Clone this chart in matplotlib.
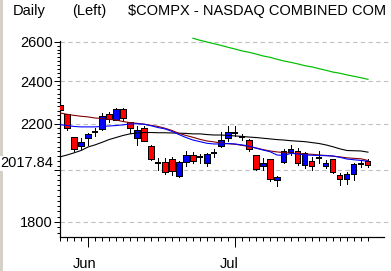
import matplotlib
matplotlib.use('Agg')
import matplotlib.pyplot as plt
import matplotlib.transforms as mtransforms
from matplotlib.ticker import FixedLocator, FixedFormatter, NullFormatter
from matplotlib.patches import Rectangle

# ---------------- data ----------------
days = list(range(45))
opens = [2286, 2244, 2140, 2102, 2137, 2165, 2175, 2244, 2217, 2268, 2207, 2137, 2180, 2102, 2031,
         2035, 2046, 1977, 2033, 2064, 2056, 2030, 2071, 2103, 2136, 2160, 2142, 2128, 2064, 2018,
         2047, 1960, 2035, 2075, 2081, 2024, 2040, 2050, 2020, 2046, 1981, 1965, 1985, 2026, 2039]
highs = [2292, 2246, 2142, 2136, 2160, 2180, 2247, 2252, 2270, 2270, 2210, 2191, 2188, 2107, 2050,
         2050, 2057, 2037, 2081, 2075, 2067, 2072, 2090, 2162, 2188, 2188, 2154, 2133, 2066, 2050,
         2048, 1976, 2090, 2107, 2092, 2075, 2057, 2083, 2042, 2049, 1990, 1993, 2029, 2045, 2047]
lows = [2258, 2172, 2083, 2091, 2105, 2144, 2172, 2210, 2215, 2212, 2157, 2107, 2125, 2043, 2000,
        1987, 1983, 1975, 2019, 2031, 2030, 2019, 2057, 2100, 2124, 2145, 2127, 2081, 2002, 2000,
        1958, 1936, 2030, 2064, 2022, 2008, 2003, 2029, 2010, 1988, 1940, 1945, 1962, 2012, 2014]
closes = [2263, 2181, 2090, 2119, 2154, 2165, 2236, 2222, 2268, 2226, 2181, 2172, 2125, 2048, 2031,
          1993, 1998, 2035, 2064, 2040, 2056, 2068, 2071, 2128, 2163, 2160, 2142, 2088, 2007, 2032,
          1965, 1972, 2080, 2089, 2031, 2071, 2020, 2050, 2032, 1993, 1964, 1985, 2026, 2029, 2024]

ma_black = [2056, 2064, 2073, 2083, 2098, 2107, 2118, 2130, 2139, 2148, 2155, 2159, 2161, 2161, 2160,
            2160, 2159, 2158, 2157, 2155, 2155, 2152, 2150, 2150, 2148, 2146, 2144, 2141, 2139, 2136,
            2133, 2130, 2128, 2125, 2123, 2121, 2117, 2113, 2107, 2099, 2090, 2083, 2082, 2081, 2076]
ma_brown = [2249, 2243, 2238, 2234, 2231, 2226, 2224, 2220, 2217, 2210, 2205, 2202, 2198, 2193, 2188,
            2180, 2170, 2157, 2148, 2140, 2131, 2124, 2120, 2115, 2112, 2110, 2105, 2100, 2094, 2087,
            2081, 2077, 2074, 2072, 2070, 2068, 2067, 2064, 2062, 2059, 2056, 2052, 2050, 2048, 2041]
ma_blue = [2196, 2192, 2188, 2186, 2186, 2186, 2188, 2190, 2192, 2195, 2199, 2200, 2198, 2191, 2183,
           2177, 2166, 2152, 2139, 2128, 2121, 2114, 2111, 2111, 2113, 2111, 2107, 2102, 2093, 2085,
           2078, 2064, 2062, 2071, 2068, 2064, 2063, 2062, 2061, 2060, 2054, 2047, 2044, 2041, 2038]
green_days = list(range(19, 45))
ma_green = [2620, 2609, 2600, 2591, 2582, 2572, 2563, 2553, 2546, 2537, 2527, 2520, 2510, 2501, 2494,
            2486, 2477, 2471, 2462, 2454, 2445, 2439, 2431, 2424, 2417, 2409]

month_labels = ['Jun', 'Jul']
month_days = [4, 25]
y_major = [1800, 2000, 2200, 2400, 2600]
# the 2000 label is hidden beneath the last-value label in the original
y_labels = ['1800', '', '2200', '2400', '2600']
y_minor = [v for v in range(1760, 2601, 20) if v not in y_major]
last_value = 2017.84
last_label = '2017.84'
title_parts = ['Daily', '(Left)', r'\$COMPX - NASDAQ COMBINED COM']

# ---------------- figure ----------------
FONT = ['Liberation Sans', 'DejaVu Sans']
plt.rcParams['font.family'] = FONT
FS = 10.5
PX = 0.72  # one pixel in points at 100 dpi

W, H = 391, 271
fig = plt.figure(figsize=(W / 100, H / 100), dpi=100)
fig.patch.set_facecolor('white')
fig.add_artist(Rectangle((0, 0), 3 / W, 1, transform=fig.transFigure,
                         facecolor='#D4D0C8', edgecolor='none', zorder=0))

ax = fig.add_axes([60 / W, 34 / H, 331 / W, 207 / H])
ax.set_yscale('log')
ylo, yhi = 1745.6, 2664.5
ax.set_ylim(ylo, yhi)
ax.set_xlim(0, 47.29)

for s in ['top', 'right']:
    ax.spines[s].set_visible(False)
ax.spines['left'].set_bounds(ylo, 2604)
ax.spines['bottom'].set_bounds(0, 46.3)
for s in ['left', 'bottom']:
    ax.spines[s].set_linewidth(PX * 1.2)

ax.yaxis.set_major_locator(FixedLocator(y_major))
ax.yaxis.set_major_formatter(FixedFormatter(y_labels))
ax.yaxis.set_minor_locator(FixedLocator(y_minor))
ax.yaxis.set_minor_formatter(NullFormatter())
ax.tick_params(axis='y', which='major', length=6 * PX, width=PX, pad=0.8,
               labelsize=FS, direction='out')
ax.tick_params(axis='y', which='minor', length=3 * PX, width=PX, direction='out')

ax.xaxis.set_major_locator(FixedLocator(month_days))
ax.xaxis.set_minor_locator(FixedLocator([d for d in days if d not in month_days]))
ax.tick_params(axis='x', which='major', length=10 * PX, width=PX, labelbottom=False,
               direction='out')
ax.tick_params(axis='x', which='minor', length=4 * PX, width=PX, direction='out')

ax.grid(True, axis='y', which='major', color='#C0C0C0', linestyle=(0, (4, 3)),
        linewidth=PX * 1.1)
ax.set_axisbelow(True)

trans_x = mtransforms.blended_transform_factory(ax.transData, ax.transAxes)
for d, lab in zip(month_days, month_labels):
    ax.text(d - 2.15, -0.095, lab, transform=trans_x, ha='left', va='top', fontsize=FS)

# ---------------- candles ----------------
ax.vlines(days, lows, highs, color='black', linewidth=PX, zorder=2, antialiased=False)
bx, bb, bh, bc, dx, dy = [], [], [], [], [], []
for d, o, c in zip(days, opens, closes):
    if c == o:
        dx.append(d)
        dy.append(c)
    else:
        bx.append(d)
        bb.append(min(o, c))
        bh.append(abs(c - o))
        bc.append('#0000FF' if c > o else '#FF0000')
ax.bar(bx, bh, bottom=bb, width=0.72, color=bc, edgecolor='black', linewidth=PX,
       zorder=3, antialiased=False)
ax.hlines(dy, [d - 0.4 for d in dx], [d + 0.4 for d in dx], color='black',
          linewidth=PX * 1.6, zorder=3, antialiased=False)

# ---------------- moving averages ----------------
ax.plot(green_days, ma_green, color='#00C000', linewidth=PX * 1.2, zorder=4, clip_on=False)
ax.plot(days, ma_black, color='black', linewidth=PX * 1.1, zorder=4)
ax.plot(days, ma_brown, color='#800000', linewidth=PX * 1.1, zorder=4)
ax.plot(days, ma_blue, color='#0000FF', linewidth=PX * 1.1, zorder=4)

# last value label
trans_y = mtransforms.blended_transform_factory(ax.transAxes, ax.transData)
ax.annotate(last_label, xy=(0, last_value), xycoords=trans_y,
            xytext=(-7 * PX, 3 * PX), textcoords='offset points',
            ha='right', va='center', fontsize=FS, zorder=10, annotation_clip=False,
            bbox=dict(facecolor='white', edgecolor='none', pad=0.3))

# ---------------- title ----------------
ty = 1 - 15 / H
fig.text(13 / W, ty, title_parts[0], ha='left', va='baseline', fontsize=FS)
fig.text(72 / W, ty, title_parts[1], ha='left', va='baseline', fontsize=FS)
fig.text(128 / W, ty, title_parts[2], ha='left', va='baseline', fontsize=FS)

fig.savefig('out.png', dpi=100)
